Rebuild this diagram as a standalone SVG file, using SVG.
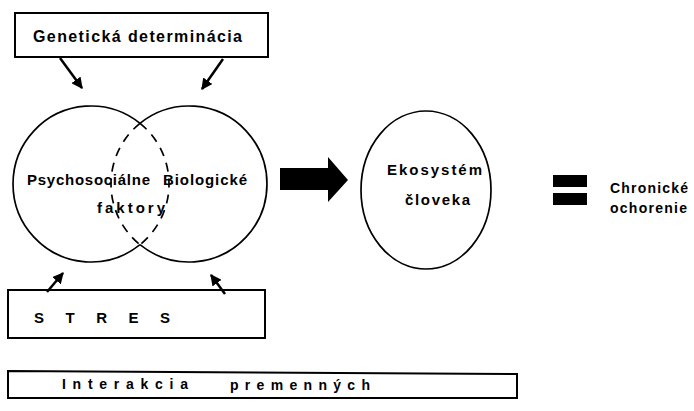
<svg xmlns="http://www.w3.org/2000/svg" width="694" height="411" viewBox="0 0 694 411">
<defs>
<marker id="ah" viewBox="0 0 10 10" refX="9" refY="5" markerWidth="4.5" markerHeight="4.5" orient="auto" markerUnits="strokeWidth">
<path d="M0,0 L10,5 L0,10 Z" fill="#000"/>
</marker>
</defs>
<style>
.box{fill:none;stroke:#000;stroke-width:2}
.ln{fill:none;stroke:#000;stroke-width:1.7}
.dash{fill:none;stroke:#000;stroke-width:1.7;stroke-dasharray:9 7}
.t{font-family:"Liberation Sans","DejaVu Sans",sans-serif;font-weight:bold;fill:#000}
.arr{stroke:#000;stroke-width:2.5;fill:none;marker-end:url(#ah)}
</style>
<rect width="694" height="411" fill="#fff"/>

<g id="genetic">
<rect class="box" x="15" y="13" width="253" height="44"/>
<text class="t" x="33" y="42" font-size="16" textLength="209" lengthAdjust="spacing">Genetická determinácia</text>
</g>

<g id="factors">
<path class="ln" d="M140,123.3 A78,78 0 1 0 140,244.7"/>
<path class="dash" d="M140,123.3 A78,78 0 0 1 140,244.7"/>
<path class="ln" d="M140,123.3 A78,78 0 1 1 140,244.7"/>
<path class="dash" d="M140,123.3 A78,78 0 0 0 140,244.7"/>
<text class="t" x="27" y="185" font-size="15" textLength="123" lengthAdjust="spacing">Psychosociálne</text>
<text class="t" x="163" y="185" font-size="15" textLength="84" lengthAdjust="spacing">Biologické</text>
<text class="t" x="97" y="213" font-size="15" textLength="68" lengthAdjust="spacing">faktory</text>
</g>

<g id="ekosystem">
<ellipse class="ln" cx="426" cy="190" rx="65" ry="79"/>
<text class="t" x="387" y="175" font-size="15" textLength="95" lengthAdjust="spacing">Ekosystém</text>
<text class="t" x="405" y="205" font-size="15" textLength="65" lengthAdjust="spacing">človeka</text>
</g>

<g id="equals">
<rect x="553" y="175" width="34" height="12" fill="#000"/>
<rect x="553" y="193" width="34" height="12" fill="#000"/>
</g>

<g id="chronic">
<text class="t" x="610" y="193" font-size="14" textLength="78" lengthAdjust="spacing">Chronické</text>
<text class="t" x="610" y="213" font-size="14" textLength="77" lengthAdjust="spacing">ochorenie</text>
</g>

<g id="stres">
<rect class="box" x="8" y="290" width="257" height="48"/>
<text class="t" x="34" y="323" font-size="15" textLength="136" lengthAdjust="spacing">S T R E S</text>
</g>

<g id="interakcia">
<path class="box" d="M8,371 L517,374 L517,398 L8,398 Z"/>
<text class="t" x="62" y="389" font-size="14" textLength="126" lengthAdjust="spacing">Interakcia</text>
<text class="t" x="230" y="390" font-size="14" textLength="140" lengthAdjust="spacing">premenných</text>
</g>

<g id="connectors">
<line class="arr" x1="60" y1="58" x2="82" y2="88"/>
<line class="arr" x1="223" y1="59" x2="202" y2="89"/>
<line class="arr" x1="47" y1="292" x2="63" y2="273"/>
<line class="arr" x1="225" y1="294" x2="211" y2="275"/>
<polygon points="280,168 328,168 328,157 348,180 328,202 328,190 280,190" fill="#000"/>
</g>
</svg>
